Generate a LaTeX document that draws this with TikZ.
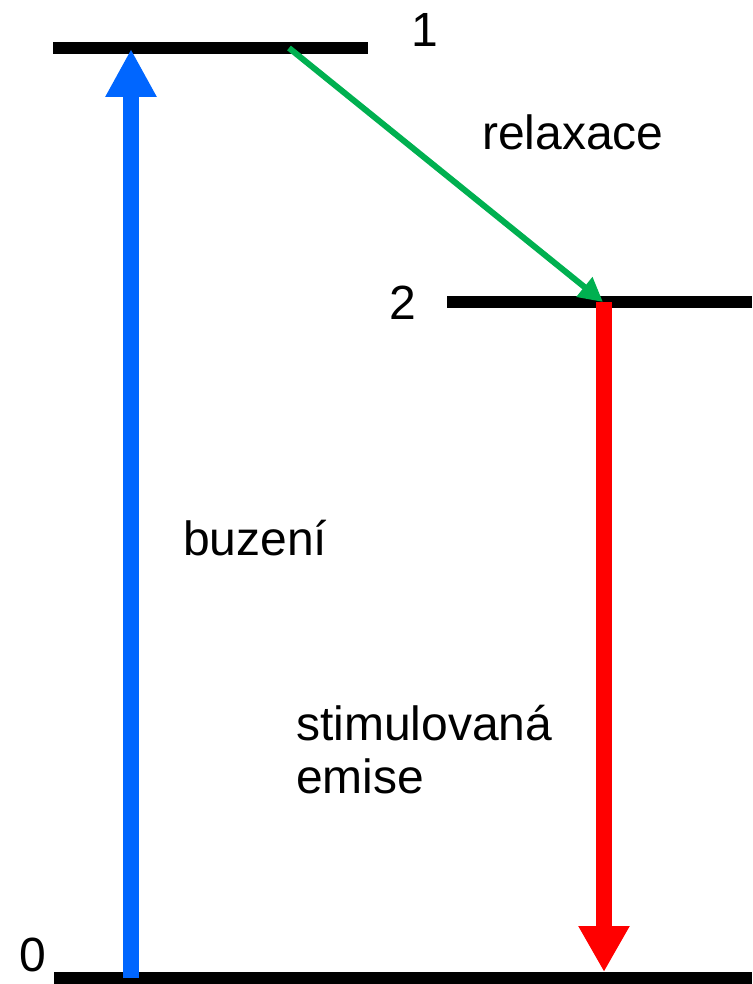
\documentclass[tikz,border=0pt]{standalone}
\usepackage{fontspec}
\setmainfont{Liberation Sans}
\usetikzlibrary{arrows.meta}
\definecolor{pumpblue}{RGB}{0,102,255}
\definecolor{relaxgreen}{RGB}{0,176,80}
\definecolor{emitred}{RGB}{255,0,0}
\begin{document}
\begin{tikzpicture}[x=1pt, y=-1pt, font=\fontsize{48}{53}\selectfont,
    level/.style={line width=12pt},
    lbl/.style={inner sep=0pt}]
\useasboundingbox (0,0) rectangle (752,984);

% hladiny
\draw[level](53,48)--(368,48);
\draw[level](447,302)--(752,302);
\draw[level](54,978)--(752,978);
\node[lbl] (n1) at (425,30){1};
\node[lbl] (n2) at (403,303){2};
\node[lbl] (n0) at (33,955){0};

\coordinate (pumpfrom) at (131,978);
\coordinate (pumpto) at (131,49);
\coordinate (relfrom) at (289,48);
\coordinate (relto) at (603,302);
\coordinate (emfrom) at (604,302);
\coordinate (emto) at (604,972);

\draw[-{Triangle[length=48pt,width=48pt]}, pumpblue, line width=16pt](pumpfrom)--(pumpto);
\draw[-{Triangle[length=24pt,width=24pt]}, relaxgreen, line width=6pt](relfrom)--(relto);
\draw[-{Triangle[length=46pt,width=48pt]}, emitred, line width=16pt](emfrom)--(emto);

\node[lbl, anchor=base west] (relax) at (482,150){relaxace};
\node[lbl, anchor=base west] (buz) at (183,555){buzení};
\node[lbl, anchor=base west] (stim) at (296,740){stimulovaná};
\node[lbl, anchor=base west] (emis) at (296,793){emise};
\end{tikzpicture}
\end{document}
